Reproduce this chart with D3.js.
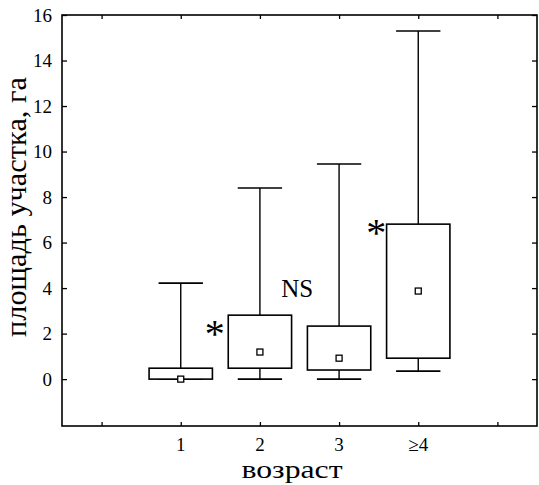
<!DOCTYPE html>
<html>
<head>
<meta charset="utf-8">
<script src="https://cdn.jsdelivr.net/npm/d3@7"></script>
<style>
  html, body { margin: 0; padding: 0; background: #fff; }
  svg { display: block; }
  svg text { font-family: "Liberation Serif", "Times New Roman", serif; fill: #000; }
</style>
</head>
<body>
<svg id="chart" width="539" height="485"></svg>
<script>
// ---- data ----
const categories   = ["1", "2", "3", "\u22654"];
const catPositions = [1, 2, 3, 4];
const whiskerLow   = [0, 0, 0, 0.35];
const q1           = [0, 0.48, 0.40, 0.92];
const center       = [0, 1.19, 0.92, 3.87];
const q3           = [0.48, 2.81, 2.33, 6.81];
const whiskerHigh  = [4.22, 8.4, 9.45, 15.3];
const yTicks       = [0, 2, 4, 6, 8, 10, 12, 14, 16];
const xTickPos     = [0, 1, 2, 3, 4, 5];
const annotations  = [
  { x: 1.43, y: 2.25, text: "*" },
  { x: 2.47, y: 3.6,  text: "NS" },
  { x: 3.47, y: 6.7,  text: "*" }
];
const xLabel = "возраст";
const yLabel = "площадь участка, га";

// ---- layout ----
const svg = d3.select("#chart");
const L = 62, R = 537, T = 15, B = 426;
const x = d3.scaleLinear().domain([-0.5, 5.5]).range([L, R]);
const y = d3.scaleLinear().domain([-2.06, 16]).range([B, T]);

const g = svg.append("g");

// frame
g.append("rect").attr("x", L).attr("y", T).attr("width", R - L).attr("height", B - T)
  .attr("fill", "none").attr("stroke", "#000").attr("stroke-width", 1.6);

function ticks(axis, tx, ty) {
  const a = g.append("g").attr("transform", `translate(${tx},${ty})`).call(axis);
  a.select(".domain").remove();
  a.selectAll("text").remove();
  a.selectAll("line").attr("stroke", "#000").attr("stroke-width", 1.3);
}
ticks(d3.axisLeft(y).tickValues(yTicks).tickSize(-5), L, 0);
ticks(d3.axisRight(y).tickValues(yTicks).tickSize(-5), R, 0);
ticks(d3.axisBottom(x).tickValues(xTickPos).tickSize(-4), 0, B);
ticks(d3.axisTop(x).tickValues(xTickPos).tickSize(-4), 0, T);

// y tick labels
g.selectAll(".ylab").data(yTicks).enter().append("text")
  .attr("class", "ylab")
  .attr("x", L - 10)
  .attr("y", d => y(d) + 6.5)
  .attr("text-anchor", "end")
  .style("font-size", "19px")
  .text(d => d3.format("d")(d));

// x tick labels
g.selectAll(".xlab").data(categories).enter().append("text")
  .attr("class", "xlab")
  .attr("x", (d, i) => x(catPositions[i]))
  .attr("y", 451)
  .attr("text-anchor", "middle")
  .style("font-size", "19px")
  .text(d => d);

// boxes
const boxHalf = 0.4, capHalf = 0.28;
const boxes = g.selectAll(".box").data(categories).enter().append("g").attr("class", "box");
boxes.each(function(d, i) {
  const s = d3.select(this);
  const c = catPositions[i];
  s.append("line").attr("x1", x(c)).attr("x2", x(c)).attr("y1", y(q3[i])).attr("y2", y(whiskerHigh[i]))
    .attr("stroke", "#000").attr("stroke-width", 1.4);
  s.append("line").attr("x1", x(c - capHalf)).attr("x2", x(c + capHalf)).attr("y1", y(whiskerHigh[i])).attr("y2", y(whiskerHigh[i]))
    .attr("stroke", "#000").attr("stroke-width", 1.6);
  s.append("line").attr("x1", x(c)).attr("x2", x(c)).attr("y1", y(q1[i])).attr("y2", y(whiskerLow[i]))
    .attr("stroke", "#000").attr("stroke-width", 1.4);
  s.append("line").attr("x1", x(c - capHalf)).attr("x2", x(c + capHalf)).attr("y1", y(whiskerLow[i])).attr("y2", y(whiskerLow[i]))
    .attr("stroke", "#000").attr("stroke-width", 1.6);
  s.append("rect").attr("x", x(c - boxHalf)).attr("width", x(c + boxHalf) - x(c - boxHalf))
    .attr("y", y(q3[i])).attr("height", y(q1[i]) - y(q3[i]))
    .attr("fill", "#fff").attr("stroke", "#000").attr("stroke-width", 1.6);
  s.append("rect").attr("x", x(c) - 3).attr("y", y(center[i]) - 3).attr("width", 6).attr("height", 6)
    .attr("fill", "#fff").attr("stroke", "#000").attr("stroke-width", 1.3);
});

// annotations
g.selectAll(".ann").data(annotations).enter().append("text")
  .attr("class", "ann")
  .attr("x", d => x(d.x))
  .attr("y", d => d.text === "*" ? y(d.y) + 19 : y(d.y))
  .attr("text-anchor", "middle")
  .style("font-size", d => d.text === "*" ? "40px" : "25px")
  .text(d => d.text);

// axis titles
svg.append("text")
  .attr("x", 292).attr("y", 478)
  .attr("text-anchor", "middle")
  .style("font-size", "26px")
  .attr("textLength", 101).attr("lengthAdjust", "spacingAndGlyphs")
  .text(xLabel);

svg.append("text")
  .attr("transform", "translate(26,207) rotate(-90)")
  .attr("text-anchor", "middle")
  .style("font-size", "29px")
  .attr("textLength", 260).attr("lengthAdjust", "spacingAndGlyphs")
  .text(yLabel);
</script>
</body>
</html>
